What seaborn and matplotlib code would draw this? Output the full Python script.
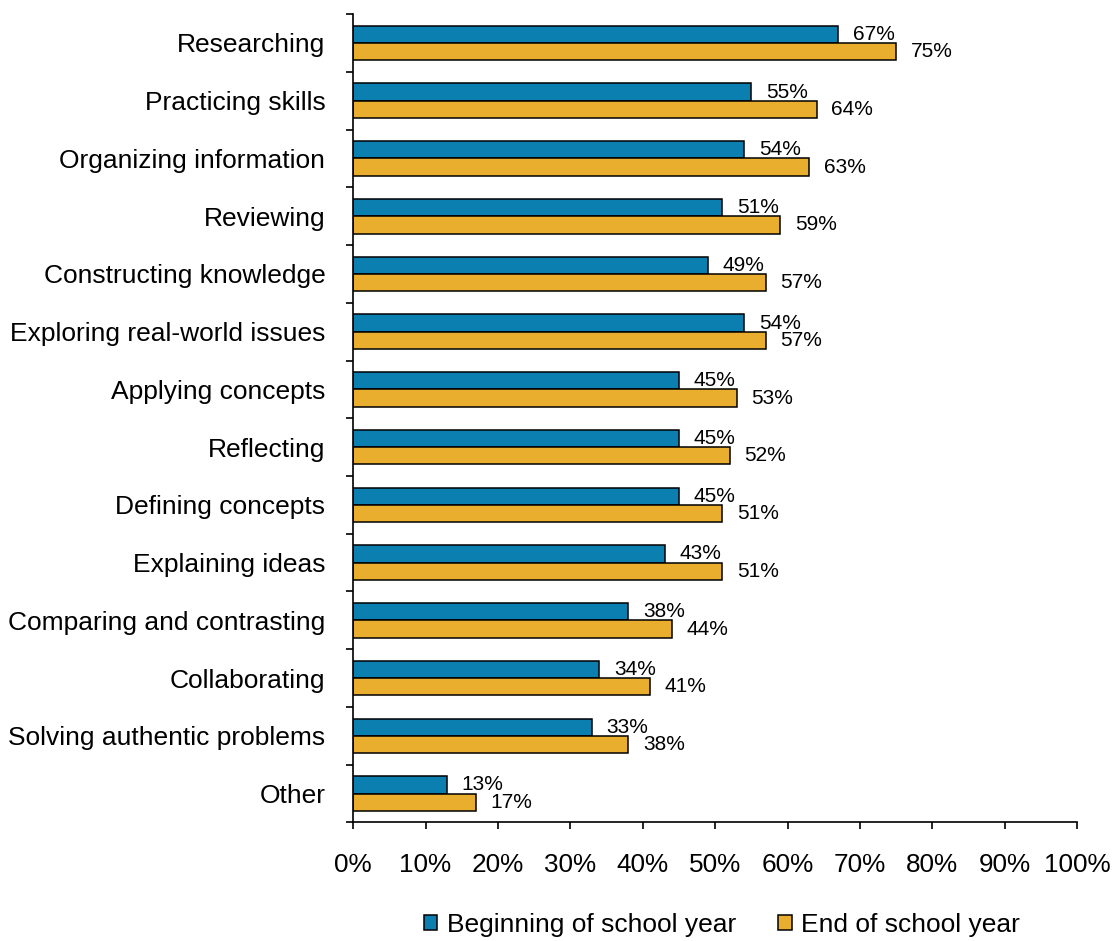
import matplotlib
matplotlib.use("Agg")
import matplotlib.pyplot as plt
import matplotlib.ticker as mticker
import numpy as np
import pandas as pd
import seaborn as sns

activities = [
    "Researching", "Practicing skills", "Organizing information", "Reviewing",
    "Constructing knowledge", "Exploring real-world issues", "Applying concepts",
    "Reflecting", "Defining concepts", "Explaining ideas",
    "Comparing and contrasting", "Collaborating", "Solving authentic problems",
    "Other",
]
beginning = [67, 55, 54, 51, 49, 54, 45, 45, 45, 43, 38, 34, 33, 13]
end_year = [75, 64, 63, 59, 57, 57, 53, 52, 51, 51, 44, 41, 38, 17]
series_names = ["Beginning of school year", "End of school year"]
colors = ["#0A7FB0", "#E9AE2D"]

df = pd.DataFrame({
    "activity": activities * 2,
    "pct": beginning + end_year,
    "period": [series_names[0]] * len(activities) + [series_names[1]] * len(activities),
})

sns.set_theme(style="white")
plt.rcParams["font.family"] = ["Liberation Sans", "DejaVu Sans"]
plt.rcParams["text.color"] = "black"
plt.rcParams["xtick.color"] = "black"
plt.rcParams["ytick.color"] = "black"

fig = plt.figure(figsize=(11.14, 9.41), dpi=100)
ax = fig.add_axes([0.317, 0.126, 0.650, 0.859])

sns.barplot(
    data=df, y="activity", x="pct", hue="period", order=activities,
    hue_order=series_names, palette=colors, orient="y", width=0.6,
    edgecolor="black", linewidth=1.1, saturation=1, ax=ax, legend=True,
)

for cont in ax.containers:
    ax.bar_label(cont, fmt="%.0f%%", padding=10.5, fontsize=15, color="black")

ax.set_xlim(0, 100)
ax.set_ylim(len(activities) - 0.5, -0.5)
ax.xaxis.set_major_locator(mticker.MultipleLocator(10))
ax.xaxis.set_major_formatter(mticker.FuncFormatter(lambda v, p: f"{v:.0f}%"))
ax.set_xlabel("")
ax.set_ylabel("")

ax.set_yticks(np.arange(len(activities)))
ax.set_yticklabels(activities)
ax.set_yticks(np.arange(len(activities) + 1) - 0.5, minor=True)
ax.tick_params(axis="y", which="major", length=0, pad=20, labelsize=19)
ax.tick_params(axis="y", which="minor", length=5, width=1.2, color="black", direction="out", left=True)
ax.tick_params(axis="x", which="major", length=5, width=1.2, color="black", direction="out",
               bottom=True, pad=17, labelsize=18.8)

for side in ["top", "right"]:
    ax.spines[side].set_visible(False)
for side in ["left", "bottom"]:
    ax.spines[side].set_color("black")
    ax.spines[side].set_linewidth(1.2)

handles, labels = ax.get_legend_handles_labels()
ax.get_legend().remove()
fig.legend(handles, labels, loc="center", bbox_to_anchor=(0.648, 0.017), ncol=2,
           frameon=False, fontsize=19, handlelength=0.52, handleheight=0.52,
           handletextpad=0.35, columnspacing=1.6)

fig.savefig("out.png", dpi=100)
